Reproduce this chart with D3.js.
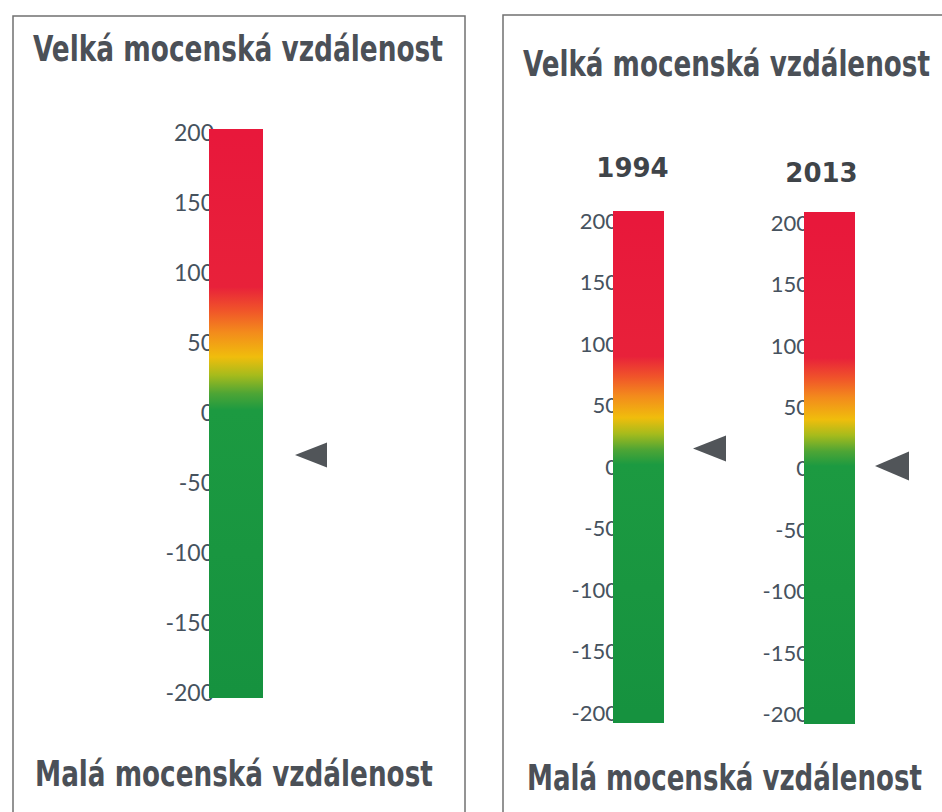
<!DOCTYPE html>
<html>
<head>
<meta charset="utf-8">
<script src="https://cdn.jsdelivr.net/npm/d3@7"></script>
<style>
    body { margin: 0; background: #fff; }
    svg { display: block; }
</style>
</head>
<body>
<svg id="gauges"></svg>
<script>
// values
const tickValues = [200, 150, 100, 50, 0, -50, -100, -150, -200];
const topTitle = "Velká mocenská vzdálenost";
const bottomTitle = "Malá mocenská vzdálenost";
const years = ["1994", "2013"];
const singleValue = [-30];
const yearValues = [15, 2];

// colour ramp of the bar, as [value, colour]
const rampValues = [-200, 2, 14, 27, 40, 58, 74, 90, 200];
const rampColors = ["#16923f", "#1c9a41", "#4ea535", "#a6bb1c", "#f0bd0c", "#f38a1c", "#f0522a", "#e8213a", "#e8183b"];

const width = 942, height = 812;

const svg = d3.select("svg#gauges")
    .attr("width", width)
    .attr("height", height);

// panel frames
const frames = [
    {x: 13, y: 16, w: 452},
    {x: 503, y: 15, w: 470}
];
svg.append("g")
    .selectAll("rect")
    .data(frames)
    .enter()
    .append("rect")
    .attr("x", d => d.x)
    .attr("y", d => d.y)
    .attr("width", d => d.w)
    .attr("height", height + 40)
    .attr("fill", "none")
    .attr("stroke", "#707070")
    .attr("stroke-width", 1.5);

// titles, squeezed horizontally to the width seen in the scan
const titles = [
    {text: topTitle, x: 33, y: 61, len: 410},
    {text: topTitle, x: 523, y: 76, len: 407},
    {text: bottomTitle, x: 35, y: 786, len: 398},
    {text: bottomTitle, x: 527, y: 790, len: 395}
];
svg.append("g")
    .selectAll("text")
    .data(titles)
    .enter()
    .append("text")
    .attr("font-family", "'DejaVu Sans Condensed', 'DejaVu Sans', sans-serif")
    .attr("font-weight", "bold")
    .attr("font-size", 36)
    .attr("fill", "#4b5057")
    .text(d => d.text)
    .attr("transform", function (d) {
        const k = d.len / this.getComputedTextLength();
        return `translate(${d.x}, ${d.y}) scale(${k}, 1)`;
    });

// gauge layouts (positions only)
const gauges = [
    {id: "g0", value: singleValue[0], barX: 209, barW: 54, yTop: 133, yBot: 693, padT: 4, padB: 5, gap: 32, triW: 32, triH: 25, font: 23},
    {id: "g1", value: yearValues[0], year: years[0], yearDx: -6, yearY: 177, barX: 613, barW: 51, yTop: 221, yBot: 713, padT: 10, padB: 10, gap: 29, triW: 33, triH: 26, font: 22},
    {id: "g2", value: yearValues[1], year: years[1], yearDx: -8, yearY: 182, barX: 804, barW: 51, yTop: 223, yBot: 714, padT: 11, padB: 10, gap: 20, triW: 34, triH: 29, font: 22}
];

const defs = svg.append("defs");

gauges.forEach(gg => {
    const y = d3.scaleLinear()
        .domain([-200, 200])
        .range([gg.yBot, gg.yTop]);

    // gradient along the bar, stops placed through the scale
    const grad = defs.append("linearGradient")
        .attr("id", "ramp-" + gg.id)
        .attr("gradientUnits", "userSpaceOnUse")
        .attr("x1", 0).attr("x2", 0)
        .attr("y1", y(-200)).attr("y2", y(200));
    grad.selectAll("stop")
        .data(rampValues)
        .enter()
        .append("stop")
        .attr("offset", d => (y(d) - y(-200)) / (y(200) - y(-200)))
        .attr("stop-color", (d, i) => rampColors[i]);

    const g = svg.append("g").attr("class", "gauge");

    // tick labels first, the bar covers their last digit a bit
    g.append("g")
        .selectAll("text")
        .data(tickValues)
        .enter()
        .append("text")
        .attr("x", gg.barX + 5)
        .attr("y", d => y(d))
        .attr("dy", "0.36em")
        .attr("text-anchor", "end")
        .attr("font-family", "Lato, 'Open Sans', sans-serif")
        .attr("font-size", gg.font)
        .attr("fill", "#46525e")
        .text(d => d);

    g.append("rect")
        .attr("x", gg.barX)
        .attr("y", y(200) - gg.padT)
        .attr("width", gg.barW)
        .attr("height", y(-200) - y(200) + gg.padT + gg.padB)
        .attr("fill", "url(#ramp-" + gg.id + ")");

    // marker triangle pointing at the value
    const tipX = gg.barX + gg.barW + gg.gap, tipY = y(gg.value);
    g.append("path")
        .attr("d", d3.line()([
            [tipX, tipY],
            [tipX + gg.triW, tipY - gg.triH / 2],
            [tipX + gg.triW, tipY + gg.triH / 2]
        ]) + "Z")
        .attr("fill", "#515559");

    if (gg.year) {
        g.append("text")
            .attr("x", gg.barX + gg.barW / 2 + gg.yearDx)
            .attr("y", gg.yearY)
            .attr("text-anchor", "middle")
            .attr("font-family", "'DejaVu Sans', sans-serif")
            .attr("font-weight", "bold")
            .attr("font-size", 26)
            .attr("fill", "#3f4449")
            .text(gg.year);
    }
});
</script>
</body>
</html>
